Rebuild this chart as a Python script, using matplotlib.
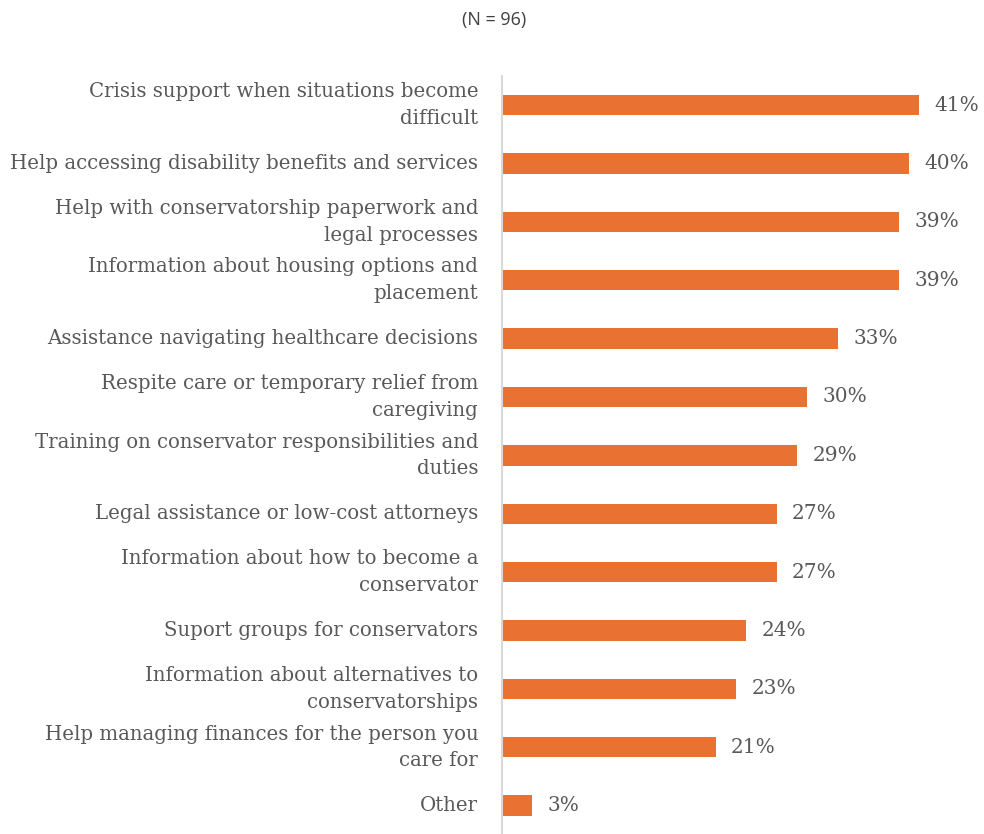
import matplotlib

matplotlib.use("Agg")
import matplotlib.pyplot as plt

categories = [
    "Crisis support when situations become\ndifficult",
    "Help accessing disability benefits and services",
    "Help with conservatorship paperwork and\nlegal processes",
    "Information about housing options and\nplacement",
    "Assistance navigating healthcare decisions",
    "Respite care or temporary relief from\ncaregiving",
    "Training on conservator responsibilities and\nduties",
    "Legal assistance or low-cost attorneys",
    "Information about how to become a\nconservator",
    "Suport groups for conservators",
    "Information about alternatives to\nconservatorships",
    "Help managing finances for the person you\ncare for",
    "Other",
]
percents = [41, 40, 39, 39, 33, 30, 29, 27, 27, 24, 23, 21, 3]
title = "(N = 96)"

BAR_COLOR = "#E97132"
TEXT_COLOR = "#595959"
SERIF = ["DejaVu Serif"]

fig = plt.figure(figsize=(9.84, 8.34), dpi=100)
ax = fig.add_axes([0.510, -0.001, 0.48, 0.910])

ypos = list(range(len(categories)))
ax.barh(ypos, percents, height=0.35, color=BAR_COLOR)
ax.set_ylim(len(categories) - 0.5, -0.5)
ax.set_xlim(0, 46.4)

for y, v in zip(ypos, percents):
    ax.annotate(f"{v}%", (v, y), xytext=(11, 0), textcoords="offset points",
                va="center", ha="left", fontsize=14.5, color=TEXT_COLOR,
                family=SERIF)

ax.set_yticks(ypos)
ax.set_yticklabels(categories, fontsize=14.2, color=TEXT_COLOR, family=SERIF,
                   linespacing=1.5, va="center")
ax.tick_params(axis="y", length=0, pad=17)
ax.set_xticks([])

for side in ("top", "right", "bottom"):
    ax.spines[side].set_visible(False)
ax.spines["left"].set_color("#d9d9d9")
ax.spines["left"].set_linewidth(1.5)

fig.text(0.502, 0.976, title, ha="center", va="center", fontsize=13,
         color="#404040", family=["Open Sans", "DejaVu Sans"])

fig.savefig("out.png", dpi=100, facecolor="white")
